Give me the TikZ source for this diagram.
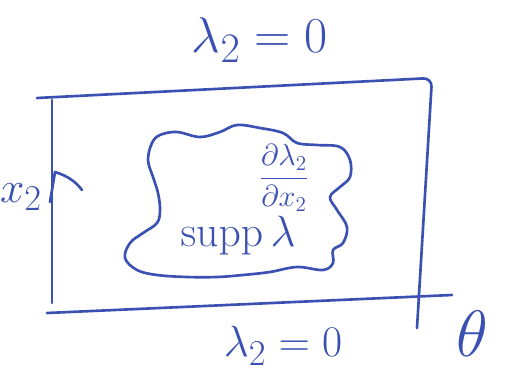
\documentclass[tikz,border=0pt]{standalone}
\usepackage{amsmath}
\usepackage{xcolor}
\usetikzlibrary{arrows.meta}
\definecolor{tinta}{HTML}{3A50B2}

\begin{document}
\begin{tikzpicture}[x=0.02cm, y=-0.02cm, >=Latex, line cap=round, line join=round,
    trazo/.style={tinta, line width=1.5pt},
    letra/.style={tinta, inner sep=0pt}]
  % Marco de la hoja
  \useasboundingbox (0,0) rectangle (516,378);
  \fill[white] (0,0) rectangle (516,378);

  % Esquinas del dominio
  \coordinate (TL) at (37,98);
  \coordinate (TR) at (432,78);
  \coordinate (RB) at (417,328);
  \coordinate (LT) at (52,100);
  \coordinate (LB) at (52,303);
  \coordinate (BL) at (47,313);
  \coordinate (BR) at (452,295);

  % Bordes del rectangulo
  \draw[trazo, rounded corners=5pt] (TL) -- (TR) -- (RB);
  \draw[trazo] (LT) -- (LB);
  \draw[trazo] (BL) -- (BR);

  % Flecha del eje x_2 sobre el borde izquierdo
  \coordinate (punta) at (55,172);
  \draw[trazo] (50,202) -- (punta) .. controls (68,176) and (76,182) .. (82,190);
  \node[letra, font=\Huge] (xdos) at (21,197) {$x_2$};

  % Soporte de lambda
  \draw[trazo] plot[smooth cycle, tension=0.6] coordinates {
    (160,135) (177,132) (200,137) (220,132) (237,125) (260,128) (283,133)
    (297,143) (317,145) (340,147) (350,160) (350,177) (340,187) (330,197)
    (337,210) (347,227) (343,243) (333,250) (333,263) (323,270) (297,267)
    (270,272) (243,275) (217,277) (187,277) (157,275) (137,270) (125,258)
    (130,243) (143,233) (157,223) (160,210) (158,193) (153,177) (148,160)
    (152,143)};
  \node[letra, font=\Huge] (supp) at (238,236) {$\operatorname{supp}\lambda$};
  \node[letra, font=\LARGE] (deriv) at (284,178) {$\displaystyle\frac{\partial\lambda_2}{\partial x_2}$};

  % Condiciones de borde
  \node[letra, font=\Huge, scale=1.15] (lamtop) at (260,40) {$\lambda_2=0$};
  \node[letra, font=\Huge] (lambot) at (283,346) {$\lambda_2=0$};

  % Angulo
  \node[letra, font=\Huge, scale=1.5] (theta) at (472,334) {$\theta$};
\end{tikzpicture}
\end{document}
